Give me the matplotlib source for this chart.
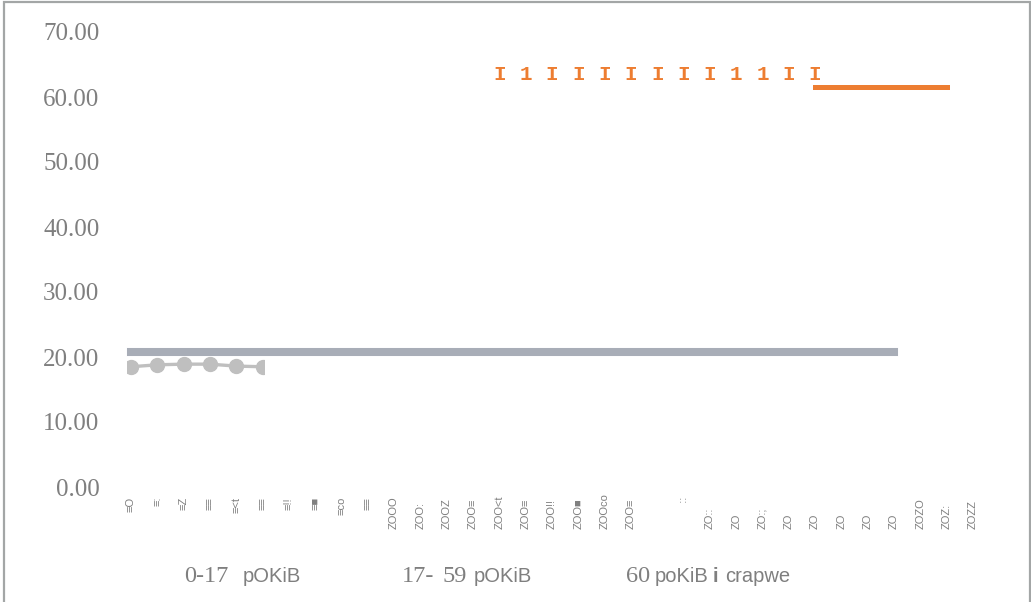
import matplotlib
matplotlib.use("Agg")
import matplotlib.pyplot as plt
from matplotlib.patches import Rectangle

# ---------------- data ----------------
years = list(range(1990, 2023))
x_labels = ["≡O", "≡:", "≡Z", "≡≡", "≡<t", "≡≡", "≡!!", "≡■", "≡co", "≡≡",
            "ZOOO", "ZOO:", "ZOOZ", "ZOO≡", "ZOO<t", "ZOO≡", "ZOO!!", "ZOO■", "ZOOco", "ZOO≡",
            "", "  ::", "ZO::", "ZO", "ZO:;", "ZO", "ZO", "ZO", "ZO", "ZO",
            "ZOZO", "ZOZ:", "ZOZZ"]

grey_years = list(range(1990, 2020))
grey_values = [20.8] * len(grey_years)

circle_years = [1990, 1991, 1992, 1993, 1994, 1995]
circle_values = [18.5, 18.8, 18.9, 18.9, 18.6, 18.5]

orange_mark_years = list(range(2004, 2017))
orange_mark_values = [63.4] * len(orange_mark_years)
orange_mark_chars = ["I", "1", "I", "I", "I", "I", "I", "I", "I", "1", "1", "I", "I"]

orange_line_years = [2016, 2017, 2018, 2019, 2020, 2021]
orange_line_values = [61.5] * len(orange_line_years)

y_ticks = [0, 10, 20, 30, 40, 50, 60, 70]
y_tick_labels = ["0.00", "10.00", "20.00", "30.00", "40.00", "50.00", "60.00", "70.00"]

legend_pieces = [
    ("0-17", "serif", 184), ("pOKiB", "sans", 243),
    ("17-", "serif", 402), ("59", "serif", 443), ("pOKiB", "sans", 474),
    ("60", "serif", 626), ("poKiB", "sans", 655), ("i", "sansbold", 713), ("crapwe", "sans", 725),
]

# ---------------- figure ----------------
W, H = 1031, 602
fig = plt.figure(figsize=(W / 100, H / 100), dpi=100)
ax_left, ax_right, ax_top, ax_bot = 105, 1000, 32, 487
ax = fig.add_axes([ax_left / W, (H - ax_bot) / H, (ax_right - ax_left) / W, (ax_bot - ax_top) / H])

px_per_year = (973 - 131) / 32
ax.set_xlim(1990 - (131 - ax_left) / px_per_year, 2022 + (ax_right - 973) / px_per_year)
ax.set_ylim(0, 70)
for s in ax.spines.values():
    s.set_visible(False)

grey_txt = "#7F7F7F"
serif = "Liberation Serif"
sans = "Liberation Sans"

ax.set_yticks(y_ticks)
ax.set_yticklabels(y_tick_labels, fontfamily=serif, fontsize=18, color=grey_txt)
ax.tick_params(axis="y", length=0, pad=4)
ax.set_xticks([])

# series
ax.plot(grey_years, grey_values, color="#A8ADB7", lw=5.8, solid_capstyle="projecting", zorder=2)

circ, = ax.plot(circle_years, circle_values, color="#BFBFBF", lw=2.4, marker="o",
                markersize=10, markerfacecolor="#BFBFBF", markeredgecolor="#BFBFBF", zorder=3)
clip = Rectangle((circle_years[0] - 0.15, 0), circle_years[-1] - circle_years[0] + 0.2, 70,
                 transform=ax.transData, visible=False)
ax.add_patch(clip)
circ.set_clip_path(clip)

ax.plot(orange_line_years, orange_line_values, color="#ED7D31", lw=3.6,
        solid_capstyle="projecting", zorder=3)
for xv, yv, ch in zip(orange_mark_years, orange_mark_values, orange_mark_chars):
    ax.text(xv, yv, ch, color="#ED7D31", fontfamily="Liberation Mono", fontweight="bold",
            fontsize=15, ha="center", va="center", zorder=4)

# x labels (rotated, garbled as in reference)
xt = ax.get_xaxis_transform()
h_ax = ax_bot - ax_top
for xv, lab in zip(years, x_labels):
    if not lab:
        continue
    if lab.startswith("Z"):
        ax.text(xv, -(529 - ax_bot) / h_ax, lab, transform=xt, rotation=90, ha="center",
                va="bottom", fontsize=8, fontfamily=sans, color="#7F7F7F", clip_on=False)
    else:
        ax.text(xv, -(497 - ax_bot) / h_ax, lab, transform=xt, rotation=90, ha="center",
                va="top", fontsize=8, fontfamily=sans, color="#7F7F7F", clip_on=False)

# legend text
for txt, kind, xpx in legend_pieces:
    kw = dict(color=grey_txt, ha="left", va="center")
    if kind == "serif":
        kw.update(fontfamily=serif, fontsize=17.5)
    elif kind == "sans":
        kw.update(fontfamily=sans, fontsize=14.5)
    else:
        kw.update(fontfamily=sans, fontsize=14.5, fontweight="bold")
    fig.text(xpx / W, 1 - 577 / H, txt, **kw)

# outer border
fig.add_artist(Rectangle((4 / W, -0.02), (1030 - 4) / W, 1.02 - 1.5 / H, transform=fig.transFigure,
                         fill=False, edgecolor="#A3A6A6", lw=1.6))

fig.savefig("out.png", dpi=100)
